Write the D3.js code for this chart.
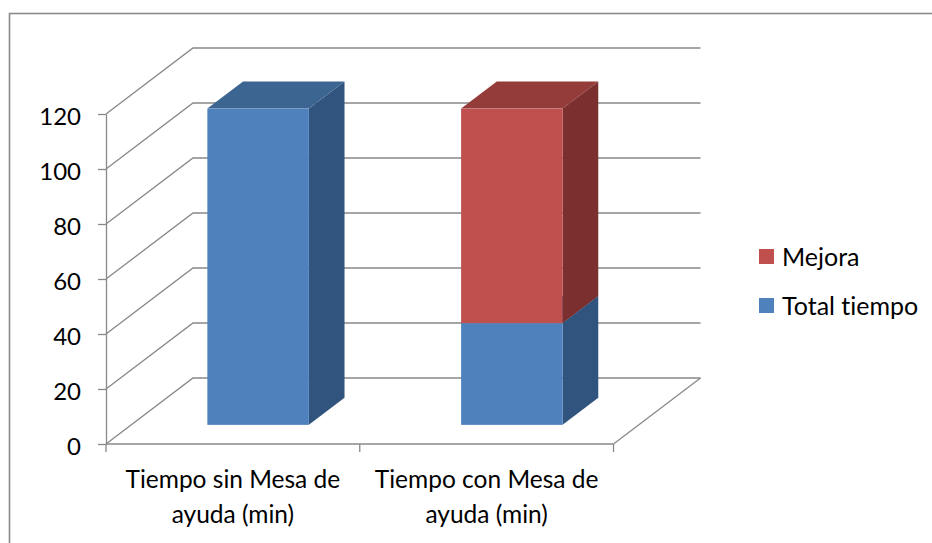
<!DOCTYPE html>
<html>
<head>
<meta charset="utf-8">
<script src="https://cdn.jsdelivr.net/npm/d3@7/dist/d3.min.js"></script>
<style>
  html, body { margin: 0; padding: 0; background: #ffffff; }
  svg { display: block; }
  text { font-family: Lato, "Open Sans", "Noto Sans", sans-serif; fill: #000;
         font-variant-ligatures: none; font-feature-settings: "liga" 0, "clig" 0, "dlig" 0; }
</style>
</head>
<body>
<svg id="chart" width="932" height="543"></svg>
<script>
// ---- data ----
const categories = [["Tiempo sin Mesa de", "ayuda (min)"], ["Tiempo con Mesa de", "ayuda (min)"]];
const seriesNames = ["Total tiempo", "Mejora"];
const totalTiempo = [115, 37];
const mejora = [0, 78];
const yTicks = [0, 20, 40, 60, 80, 100, 120];
const legendOrder = ["Mejora", "Total tiempo"];

const colors = {
  "Total tiempo": { front: "#4F81BD", top: "#3D6592", side: "#31547E" },
  "Mejora":       { front: "#C0504D", top: "#933C3A", side: "#7B302F" }
};

const svg = d3.select("#chart");
svg.append("rect").attr("width", 932).attr("height", 543).attr("fill", "#fff");
// outer frame
svg.append("rect").attr("x", 9.5).attr("y", 13.5).attr("width", 960).attr("height", 600)
  .attr("fill", "none").attr("stroke", "#8a8a8a").attr("stroke-width", 1.6);

// ---- geometry ----
const x0 = 106, x1 = 613.5;
const depth = { dx: 87, dy: -66 };
const barFront = 0.29, barBack = 0.70;
const gridColor = "#888888";

const y = d3.scaleLinear().domain([0, 120]).range([444, 114]);
const x = d3.scaleBand().domain(d3.range(categories.length)).range([x0, x1]).paddingInner(0).paddingOuter(0);
const barW = x.bandwidth() / 2.5;

// gridlines on side wall + back wall
const grid = svg.append("g");
yTicks.forEach(v => {
  const yy = y(v);
  grid.append("path")
    .attr("d", `M${x0},${yy} L${x0 + depth.dx},${yy + depth.dy} L${x1 + depth.dx},${yy + depth.dy}`)
    .attr("fill", "none").attr("stroke", gridColor).attr("stroke-width", 1.3);
});
// floor right edge
grid.append("path")
  .attr("d", `M${x1},${y(0)} L${x1 + depth.dx},${y(0) + depth.dy}`)
  .attr("fill", "none").attr("stroke", gridColor).attr("stroke-width", 1.3);

// y axis
const yAxis = d3.axisLeft(y).tickValues(yTicks).tickSize(8).tickSizeOuter(0).tickPadding(17);
const yg = svg.append("g").attr("transform", `translate(${x0},0)`).call(yAxis);
yg.select(".domain").attr("stroke", gridColor).attr("stroke-width", 1.3);
yg.selectAll(".tick line").attr("stroke", gridColor).attr("stroke-width", 1.3);
yg.selectAll(".tick text").attr("font-size", 24).attr("font-family", "Lato, sans-serif")
  .attr("fill", "#000").attr("dy", "0.42em");

// x axis (front floor edge) with boundary ticks
svg.append("line").attr("x1", x0).attr("x2", x1).attr("y1", y(0)).attr("y2", y(0))
  .attr("stroke", gridColor).attr("stroke-width", 1.3);
const bounds = d3.range(categories.length + 1).map(i => i < categories.length ? x(i) : x1);
bounds.forEach(b => {
  svg.append("line").attr("x1", b).attr("x2", b).attr("y1", y(0)).attr("y2", y(0) + 8)
    .attr("stroke", gridColor).attr("stroke-width", 1.3);
});
categories.forEach((lines, i) => {
  const cx = x(i) + x.bandwidth() / 2;
  lines.forEach((t, j) => {
    svg.append("text").attr("x", cx).attr("y", 488 + j * 35)
      .attr("text-anchor", "middle").attr("font-size", 24.5).text(t);
  });
});

// ---- bars ----
const stackData = categories.map((c, i) => ({ i, "Total tiempo": totalTiempo[i], "Mejora": mejora[i] }));
const stacked = d3.stack().keys(seriesNames)(stackData);

const fdx = depth.dx * barFront, fdy = depth.dy * barFront;
const bdx = depth.dx * (barBack - barFront), bdy = depth.dy * (barBack - barFront);

const barsG = svg.append("g");
categories.forEach((c, i) => {
  const left = x(i) + (x.bandwidth() - barW) / 2 + fdx;
  const right = left + barW;
  stacked.forEach(layer => {
    const d = layer[i];
    if (d[1] - d[0] <= 0) return;
    const col = colors[layer.key];
    const yb = y(d[0]) + fdy, yt = y(d[1]) + fdy;
    // side
    barsG.append("path")
      .attr("d", `M${right},${yt} L${right + bdx},${yt + bdy} L${right + bdx},${yb + bdy} L${right},${yb} Z`)
      .attr("fill", col.side);
    // top
    barsG.append("path")
      .attr("d", `M${left},${yt} L${left + bdx},${yt + bdy} L${right + bdx},${yt + bdy} L${right},${yt} Z`)
      .attr("fill", col.top);
    // front
    barsG.append("rect").attr("x", left).attr("y", yt).attr("width", barW).attr("height", yb - yt)
      .attr("fill", col.front);
  });
});

// ---- legend ----
const lg = svg.append("g");
legendOrder.forEach((name, k) => {
  const ly = 249 + k * 49;
  lg.append("rect").attr("x", 759).attr("y", ly).attr("width", 15).attr("height", 15)
    .attr("fill", colors[name].front);
  lg.append("text").attr("x", 782).attr("y", ly + 7.5).attr("dy", "0.36em")
    .attr("font-size", 25).text(name);
});
</script>
</body>
</html>
